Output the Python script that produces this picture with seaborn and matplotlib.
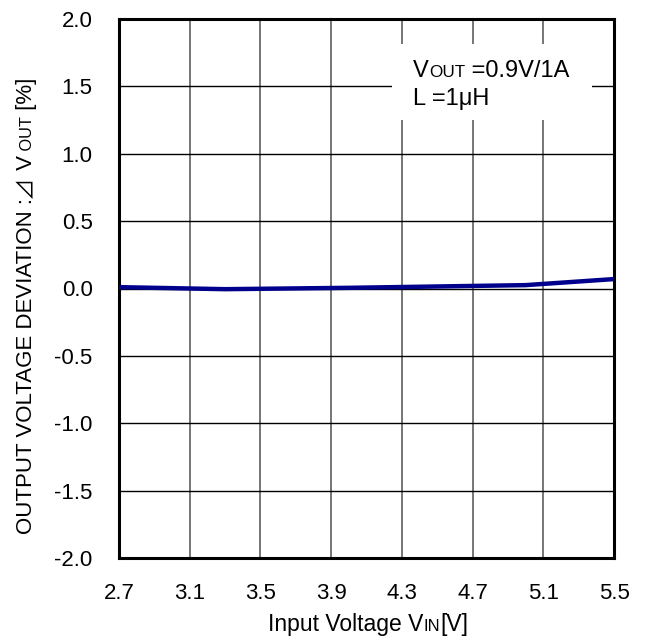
import matplotlib
matplotlib.use("Agg")
import matplotlib.pyplot as plt
import pandas as pd
import seaborn as sns
from matplotlib.patches import Rectangle

# Output voltage deviation versus input voltage
VIN = [2.7, 3.3, 4.0, 4.5, 5.0, 5.5]
DEV = [0.01, -0.005, 0.005, 0.015, 0.025, 0.07]

X_TICKS = [2.7, 3.1, 3.5, 3.9, 4.3, 4.7, 5.1, 5.5]
Y_TICKS = [-2.0, -1.5, -1.0, -0.5, 0.0, 0.5, 1.0, 1.5, 2.0]

sns.set_style("white")
BASE = ["Liberation Sans", "DejaVu Sans"]
CJK = ["Noto Sans CJK JP", "DejaVu Sans"]
plt.rcParams["font.family"] = BASE

W, H = 645, 640
fig = plt.figure(figsize=(W / 100, H / 100), dpi=100)
ax = fig.add_axes([119 / W, 1 - 558 / H, 495 / W, 539 / H])

df = pd.DataFrame({"vin": VIN, "dev": DEV})
sns.lineplot(data=df, x="vin", y="dev", ax=ax, color="#00008C", lw=3.2, zorder=5)

ax.set_xlim(2.7, 5.5)
ax.set_ylim(-2.0, 2.0)
ax.set_xticks(X_TICKS)
ax.set_xticklabels([f"{v:.1f}" for v in X_TICKS])
ax.set_yticks(Y_TICKS)
ax.set_yticklabels([f"{v:.1f}" for v in Y_TICKS])
ax.tick_params(length=0, labelsize=16, colors="black")
ax.tick_params(axis="x", pad=18)
ax.tick_params(axis="y", pad=19)
ax.set_xlabel("")
ax.set_ylabel("")

for x in X_TICKS[1:-1]:
    ax.axvline(x, color="#505050", lw=1.1, zorder=1)
for y in Y_TICKS[1:-1]:
    ax.axhline(y, color="black", lw=1.0, zorder=1)
for sp in ax.spines.values():
    sp.set_color("black")
    sp.set_linewidth(2.2)

# white panel behind the condition note
ax.add_patch(Rectangle((0.5515, 0.8126), 0.4041, 0.141, transform=ax.transAxes,
                       facecolor="white", edgecolor="none", zorder=2))

renderer = fig.canvas.get_renderer()


def advance(s, size, family):
    t = fig.text(0, 0, "|" + s + "|", fontsize=size, family=family)
    w1 = t.get_window_extent(renderer).width
    t.set_text("||")
    w2 = t.get_window_extent(renderer).width
    t.remove()
    return w1 - w2


def place(pieces, x_px, y_px, rotation=0, center=False):
    """Draw text pieces of mixed size on a common baseline (pixel coords, top-left origin)."""
    pieces = [p if len(p) == 3 else (p[0], p[1], BASE) for p in pieces]
    total = sum(advance(*p) for p in pieces)
    pos = -total / 2 if center else 0.0
    for s, sz, fam in pieces:
        if rotation == 90:
            fx, fy = x_px, H - y_px + pos
        else:
            fx, fy = x_px + pos, H - y_px
        fig.text(fx / W, fy / H, s, fontsize=sz, family=fam, rotation=rotation,
                 rotation_mode="anchor", ha="left", va="baseline", color="black")
        pos += advance(s, sz, fam)


place([("OUTPUT VOLTAGE DEVIATION :", 16), ("⊿", 16, CJK), (" V", 16),
       (" OUT", 11.7), (" [%]", 16)],
      32, 306, rotation=90, center=True)
place([("Input Voltage V", 16.5), ("IN", 12), ("[V]", 16.5)], 368, 631, center=True)
place([("V", 17), ("OUT", 12.3), (" =0.9V/1A", 17)], 413, 77)
place([("L =1μH", 17)], 413, 105)

fig.savefig("out.png", dpi=100)
